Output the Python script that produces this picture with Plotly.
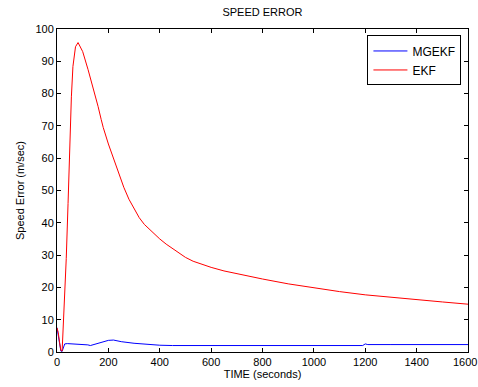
import plotly.graph_objects as go

# EKF speed error (m/sec) vs time (seconds)
ekf_t = [0, 5, 10, 15, 20, 25, 30, 36, 43, 49, 56, 62, 67, 72, 82, 90, 100,
         121, 140, 160, 172, 180, 200, 230, 260, 280, 300, 320, 340, 360, 380, 400,
         425, 450, 475, 500, 530, 560, 600, 650, 700, 750, 800, 900, 1000,
         1100, 1200, 1300, 1400, 1500, 1600]
ekf_v = [7.5, 6, 3, 0.5, 0.3, 8, 18, 29, 46, 64.7, 79, 88.4, 92, 94.5, 95.8, 94.5, 93,
         87.4, 82, 76, 72, 69.5, 64.4, 57.6, 51, 47.3, 44.3, 41.6, 39.5, 37.9, 36.4, 35.0,
         33.4, 32.0, 30.6, 29.3, 28.1, 27.2, 26.2, 25.1, 24.2, 23.4, 22.6, 21.1, 19.8,
         18.7, 17.7, 16.9, 16.2, 15.5, 14.8]

# MGEKF speed error
mg_t = [0, 5, 10, 15, 20, 25, 30, 40, 60, 80, 100, 120, 130, 150, 180, 200, 220,
        250, 300, 350, 400, 450, 500, 550, 600, 650, 700, 800, 900, 1000, 1100,
        1190, 1200, 1210, 1300, 1400, 1500, 1600]
mg_v = [7.5, 5, 2, 0.3, 0.2, 1.5, 2.5, 2.6, 2.5, 2.5, 2.4, 2.2, 2.0, 2.5, 3.2, 3.6, 3.7,
        3.2, 2.7, 2.3, 2.1, 2.0, 2.0, 1.9, 1.9, 1.9, 1.9, 1.9, 1.9, 1.9, 1.9,
        2.0, 2.5, 2.3, 2.3, 2.3, 2.3, 2.3]

x_ticks = [0, 200, 400, 600, 800, 1000, 1200, 1400, 1600]
x_tick_labels = ["0", "200", "400", "600", "800", "1000", "1200", "1400", "1600"]
y_ticks = [0, 10, 20, 30, 40, 50, 60, 70, 80, 90, 100]

fig = go.Figure()
fig.add_trace(go.Scatter(x=mg_t, y=mg_v, mode="lines", name="MGEKF",
                         line=dict(color="#0000ff", width=1)))
fig.add_trace(go.Scatter(x=ekf_t, y=ekf_v, mode="lines", name="EKF",
                         line=dict(color="#ff0000", width=1)))

axis_common = dict(showline=True, linecolor="black", linewidth=1, mirror="ticks",
                   ticks="inside", ticklen=4, tickcolor="black", showgrid=False,
                   zeroline=False, tickfont=dict(size=11, color="black"))

# last x tick label drawn as annotation so it sits right at the page edge
shown_labels = x_tick_labels[:-1] + [""]
fig.add_annotation(x=x_ticks[-1], y=0, xref="x", yref="y", text=x_tick_labels[-1],
                   showarrow=False, xanchor="center", yanchor="top", yshift=-2, xshift=-3,
                   font=dict(size=11, color="black"))

fig.update_layout(
    width=478, height=387,
    margin=dict(l=57, r=10, t=29, b=35),
    paper_bgcolor="white", plot_bgcolor="white",
    font=dict(family="Liberation Sans, Arial, sans-serif", size=11, color="black"),
    title=dict(text="SPEED ERROR", x=0.549, xanchor="center", y=0.968, yanchor="middle",
               font=dict(size=11)),
    xaxis=dict(range=[0, 1600], tickvals=x_ticks, ticktext=shown_labels,
               title=dict(text="TIME (seconds)", standoff=2, font=dict(size=11)),
               **axis_common),
    yaxis=dict(range=[0, 100], tickvals=y_ticks,
               title=dict(text="Speed Error (m/sec)", standoff=8, font=dict(size=11)),
               **axis_common),
    legend=dict(x=0.984, xanchor="right", y=0.98, yanchor="top",
                bordercolor="black", borderwidth=1, bgcolor="white",
                font=dict(size=12), tracegroupgap=0, itemwidth=34),
    showlegend=True,
)

fig.write_html("out.html")
